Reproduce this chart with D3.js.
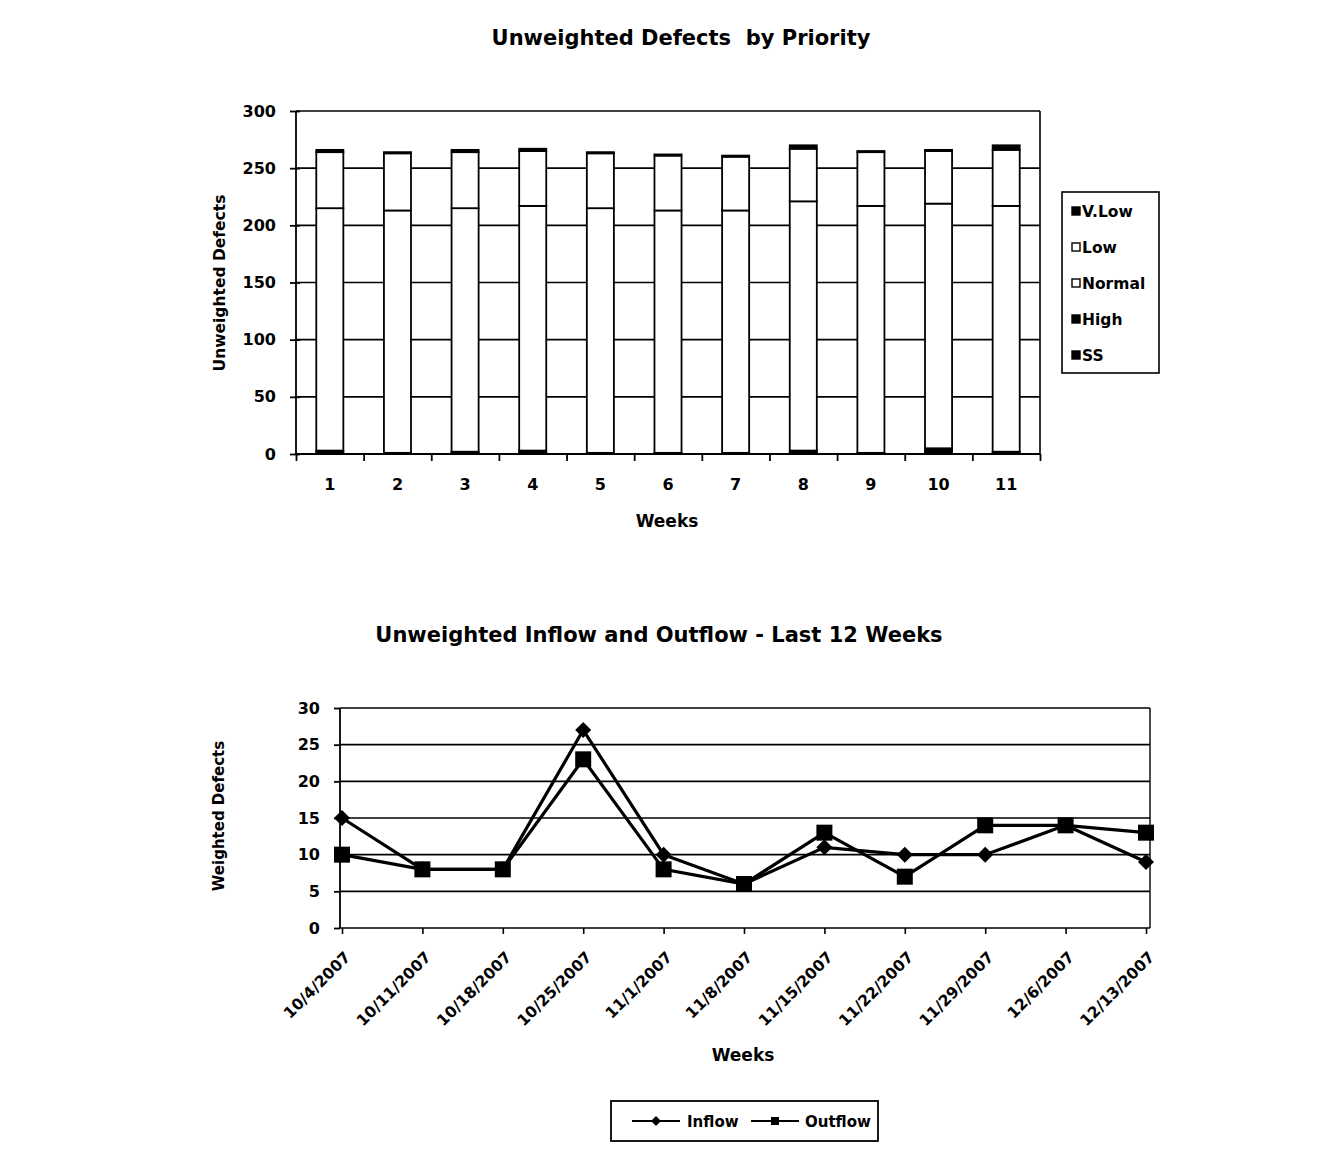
<!DOCTYPE html>
<html><head><meta charset="utf-8">
<script src="https://cdn.jsdelivr.net/npm/d3@7"></script>
<style>
body{margin:0;background:#fff;}
text{font-family:"DejaVu Sans",Arial,sans-serif;font-weight:bold;fill:#000;}
</style></head>
<body>
<svg id="c" width="1340" height="1158"></svg>
<script>
// ---- Data: bar chart ----
const weeks = ["1","2","3","4","5","6","7","8","9","10","11"];
const priorities = ["SS","High","Normal","Low","V.Low"];
const ssVals     = [1, 0, 1, 1, 0, 0, 0, 1, 0, 2, 1];
const highVals   = [2, 1, 1, 2, 1, 1, 1, 2, 1, 3, 1];
const normalVals = [212, 212, 213, 214, 214, 212, 212, 218, 216, 214, 215];
const lowVals    = [49, 50, 49, 48, 48, 48, 47, 46, 47, 46, 49];
const vlowVals   = [2, 1, 2, 2, 1, 1, 1, 3, 1, 1, 4];
const priorityFill = {"SS":"#000","High":"#000","Normal":"#fff","Low":"#fff","V.Low":"#000"};
const barTicks = [0,50,100,150,200,250,300];

// ---- Data: line chart ----
const dates = ["10/4/2007","10/11/2007","10/18/2007","10/25/2007","11/1/2007","11/8/2007","11/15/2007","11/22/2007","11/29/2007","12/6/2007","12/13/2007"];
const inflow  = [15, 8, 8, 27, 10, 6, 11, 10, 10, 14, 9];
const outflow = [10, 8, 8, 23, 8, 6, 13, 7, 14, 14, 13];
const lineTicks = [0,5,10,15,20,25,30];

const svg = d3.select("#c");

// ================= Bar chart =================
const b = {l:296, r:1040, t:111, b:454};
const xb = d3.scaleBand().domain(weeks).range([b.l,b.r]).paddingInner(0.6).paddingOuter(0.3);
const xbEdge = d3.scaleLinear().domain([0,weeks.length]).range([b.l,b.r]);
const yb = d3.scaleLinear().domain([0,300]).range([b.b,b.t]);

svg.append("text").attr("x",681).attr("y",45).attr("text-anchor","middle")
  .style("font-size","21px").attr("xml:space","preserve").text("Unweighted Defects  by Priority");

// gridlines
svg.append("g").selectAll("line").data(barTicks.filter(d=>d>0)).join("line")
  .attr("x1",b.l).attr("x2",b.r).attr("y1",d=>yb(d)).attr("y2",d=>yb(d))
  .attr("stroke","#000").attr("stroke-width",1.6);
// right border
svg.append("line").attr("x1",b.r).attr("x2",b.r).attr("y1",b.t).attr("y2",b.b)
  .attr("stroke","#000").attr("stroke-width",1.6);

// stacked bars
const rows = weeks.map((w,i)=>({week:w,"SS":ssVals[i],"High":highVals[i],"Normal":normalVals[i],"Low":lowVals[i],"V.Low":vlowVals[i]}));
const stack = d3.stack().keys(priorities)(rows);
svg.append("g").selectAll("g").data(stack).join("g")
  .attr("fill",d=>priorityFill[d.key])
  .selectAll("rect").data(d=>d).join("rect")
  .attr("x",d=>xb(d.data.week)).attr("width",xb.bandwidth())
  .attr("y",d=>yb(d[1])).attr("height",d=>Math.max(0,yb(d[0])-yb(d[1])))
  .attr("stroke","#000").attr("stroke-width",1.8);

// y axis
const yAxB = svg.append("g").attr("transform",`translate(${b.l},0)`)
  .call(d3.axisLeft(yb).tickValues(barTicks).tickSize(6).tickPadding(14));
yAxB.selectAll("text").style("font-size","16px");
yAxB.selectAll("line,path").attr("stroke","#000").attr("stroke-width",1.8);
yAxB.selectAll(".tick line").attr("x2",-6).attr("x1",4);
yAxB.select(".domain").attr("d",`M0,${b.t}V${b.b}`);

// x axis (tick marks at category boundaries)
const xAxB = svg.append("g").attr("transform",`translate(0,${b.b})`)
  .call(d3.axisBottom(xbEdge).tickValues(d3.range(0,weeks.length+1)).tickSize(7).tickFormat(""));
xAxB.selectAll("line,path").attr("stroke","#000").attr("stroke-width",1.8);
xAxB.select(".domain").attr("d",`M${b.l},0H${b.r}`);
const xLabB = svg.append("g").attr("transform",`translate(0,${b.b})`)
  .call(d3.axisBottom(xb).tickSize(0).tickPadding(25));
xLabB.select(".domain").remove();
xLabB.selectAll("text").style("font-size","16px");

svg.append("text").attr("x",667).attr("y",527).attr("text-anchor","middle")
  .style("font-size","17px").text("Weeks");
svg.append("text").attr("transform","translate(225,283) rotate(-90)").attr("text-anchor","middle")
  .style("font-size","15.5px").text("Unweighted Defects");

// legend
const lg = svg.append("g");
lg.append("rect").attr("x",1062).attr("y",192).attr("width",97).attr("height",181)
  .attr("fill","#fff").attr("stroke","#000").attr("stroke-width",1.6);
const legOrder = priorities.slice().reverse();
legOrder.forEach((k,i)=>{
  const y = 211 + i*36;
  lg.append("rect").attr("x",1072).attr("y",y-4).attr("width",8).attr("height",8)
    .attr("fill",priorityFill[k]).attr("stroke","#000").attr("stroke-width",1.4);
  lg.append("text").attr("x",1082).attr("y",y+6).style("font-size","15.5px").text(k);
});

// ================= Line chart =================
const L = {l:340, r:1150, t:708, b:928};
const xl = d3.scalePoint().domain(dates).range([342,1146]);
const yl = d3.scaleLinear().domain([0,30]).range([L.b,L.t]);

svg.append("text").attr("x",659).attr("y",642).attr("text-anchor","middle")
  .style("font-size","21px").text("Unweighted Inflow and Outflow - Last 12 Weeks");

svg.append("g").selectAll("line").data(lineTicks.filter(d=>d>0)).join("line")
  .attr("x1",L.l).attr("x2",L.r).attr("y1",d=>yl(d)).attr("y2",d=>yl(d))
  .attr("stroke","#000").attr("stroke-width",1.6);
svg.append("line").attr("x1",L.r).attr("x2",L.r).attr("y1",L.t).attr("y2",L.b)
  .attr("stroke","#000").attr("stroke-width",1.4);

const yAxL = svg.append("g").attr("transform",`translate(${L.l},0)`)
  .call(d3.axisLeft(yl).tickValues(lineTicks).tickSize(6).tickPadding(14));
yAxL.selectAll("text").style("font-size","16px");
yAxL.selectAll("line,path").attr("stroke","#000").attr("stroke-width",1.8);
yAxL.select(".domain").attr("d",`M0,${L.t}V${L.b}`);

const xAxL = svg.append("g").attr("transform",`translate(0,${L.b})`)
  .call(d3.axisBottom(xl).tickSize(6).tickPadding(4));
xAxL.selectAll("line,path").attr("stroke","#000").attr("stroke-width",1.6);
xAxL.select(".domain").attr("d",`M${L.l},0H${L.r}`);
xAxL.selectAll("text").style("font-size","15.5px").attr("text-anchor","end")
  .attr("dy",null).attr("y",0)
  .attr("transform","translate(9,30) rotate(-45)");

const lineGen = d3.line().x((d,i)=>xl(dates[i])).y(d=>yl(d));
svg.append("path").datum(inflow).attr("d",lineGen).attr("fill","none")
  .attr("stroke","#000").attr("stroke-width",3.2).attr("stroke-linejoin","miter");
svg.append("path").datum(outflow).attr("d",lineGen).attr("fill","none")
  .attr("stroke","#000").attr("stroke-width",3.2);

const diamond = s => `M0,${-s}L${s},0L0,${s}L${-s},0Z`;
svg.append("g").selectAll("path").data(inflow).join("path")
  .attr("transform",(d,i)=>`translate(${xl(dates[i])},${yl(d)})`)
  .attr("d",diamond(8)).attr("fill","#000");
svg.append("g").selectAll("rect").data(outflow).join("rect")
  .attr("x",(d,i)=>xl(dates[i])-8).attr("y",d=>yl(d)-8)
  .attr("width",16).attr("height",16).attr("fill","#000");

svg.append("text").attr("x",743).attr("y",1061).attr("text-anchor","middle")
  .style("font-size","17px").text("Weeks");
svg.append("text").attr("transform","translate(224,816) rotate(-90)").attr("text-anchor","middle")
  .style("font-size","15px").text("Weighted Defects");

// bottom legend
const lg2 = svg.append("g");
lg2.append("rect").attr("x",611).attr("y",1101).attr("width",267).attr("height",40)
  .attr("fill","#fff").attr("stroke","#000").attr("stroke-width",1.8);
lg2.append("line").attr("x1",632).attr("x2",680).attr("y1",1121).attr("y2",1121).attr("stroke","#000").attr("stroke-width",1.8);
lg2.append("path").attr("transform","translate(656,1121)").attr("d",diamond(5)).attr("fill","#000");
lg2.append("text").attr("x",687).attr("y",1127).style("font-size","15px").text("Inflow");
lg2.append("line").attr("x1",751).attr("x2",799).attr("y1",1121).attr("y2",1121).attr("stroke","#000").attr("stroke-width",1.8);
lg2.append("rect").attr("x",771).attr("y",1117).attr("width",8).attr("height",8).attr("fill","#000");
lg2.append("text").attr("x",805).attr("y",1127).style("font-size","15px").text("Outflow");
</script>
</body></html>
